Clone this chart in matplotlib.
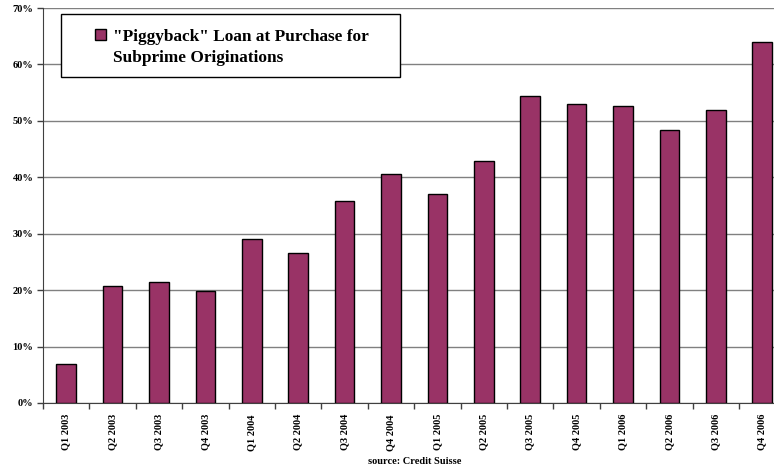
#!/usr/bin/env python3
"""Piggyback loan share at purchase, subprime originations by quarter"""
import matplotlib
matplotlib.use("Agg")
import matplotlib.pyplot as plt
import numpy as np
from matplotlib.patches import Rectangle
from matplotlib.ticker import FuncFormatter

# ---- data ----
quarters = ["Q1 2003", "Q2 2003", "Q3 2003", "Q4 2003",
            "Q1 2004", "Q2 2004", "Q3 2004", "Q4 2004",
            "Q1 2005", "Q2 2005", "Q3 2005", "Q4 2005",
            "Q1 2006", "Q2 2006", "Q3 2006", "Q4 2006"]
piggyback = [6.9, 20.8, 21.5, 19.9,
             29.1, 26.6, 35.8, 40.6,
             37.0, 42.9, 54.4, 53.0,
             52.6, 48.4, 51.9, 63.9]
series_label = '"Piggyback" Loan at Purchase for\nSubprime Originations'
source_note = "source: Credit Suisse"

plt.rcParams["font.family"] = ["Liberation Serif", "DejaVu Serif"]
plt.rcParams["font.weight"] = "bold"

W, H = 774, 468
fig = plt.figure(figsize=(W / 100, H / 100), dpi=100)
# plot area runs past the right edge (the original is cropped there)
left, right, top, bottom = 43, 43 + 46.4 * 16, 8, 403
ax = fig.add_axes([left / W, 1 - bottom / H, (right - left) / W, (bottom - top) / H])

x = np.arange(len(quarters))
ax.bar(x, piggyback, width=0.42, color="#993366", edgecolor="black",
       linewidth=1, zorder=3, label=series_label)

ax.set_xlim(-0.5, len(quarters) - 0.5)
ax.set_ylim(0, 70)
ax.set_yticks(np.arange(0, 71, 10))
ax.yaxis.set_major_formatter(FuncFormatter(lambda v, p: f"{v:.0f}%"))
ax.grid(axis="y", color="#808080", linewidth=1, zorder=0)
ax.set_axisbelow(True)

# category labels at bar centers, tick marks between categories
ax.set_xticks(x)
ax.set_xticklabels(quarters, rotation=90, fontsize=7.5, fontweight="bold")
ax.tick_params(axis="x", which="major", length=0, pad=8)
ax.set_xticks(np.arange(-0.5, len(quarters), 1), minor=True)
ax.tick_params(axis="x", which="minor", length=4, width=1, color="#404040",
               direction="out")
ax.tick_params(axis="y", length=4, width=1, color="#404040", direction="out",
               labelsize=7.5, pad=3)
for lab in ax.get_yticklabels():
    lab.set_fontweight("bold")

for s in ["top", "right"]:
    ax.spines[s].set_visible(False)
ax.spines["left"].set_color("#404040")
ax.spines["bottom"].set_color("#404040")

# legend box (frame drawn separately so the entry can sit indented)
ax.add_patch(Rectangle((61 / W, 1 - 77 / H), (400 - 61) / W, 63 / H,
                       transform=fig.transFigure, facecolor="white",
                       edgecolor="black", linewidth=1, zorder=4,
                       clip_on=False))
fs = 12.4
leg = ax.legend(loc="upper left", bbox_to_anchor=(95 / W, 1 - 29 / H),
                bbox_transform=fig.transFigure,
                prop={"size": fs, "weight": "bold"},
                frameon=False, borderpad=0, borderaxespad=0,
                handlelength=0.65, handleheight=0.65, handletextpad=0.4)
leg.set_zorder(5)
for t in leg.get_texts():
    t.set_linespacing(1.45)
# Excel puts the swatch beside the first line of a wrapped entry
h = leg.legend_handles[0]
h.set_y(h.get_y() + 0.52 * fs * 1.45)

fig.text(415 / W, 1 - 462 / H, source_note, ha="center", va="center",
         fontsize=7.5, fontweight="bold")

fig.savefig("out.png", dpi=100)
